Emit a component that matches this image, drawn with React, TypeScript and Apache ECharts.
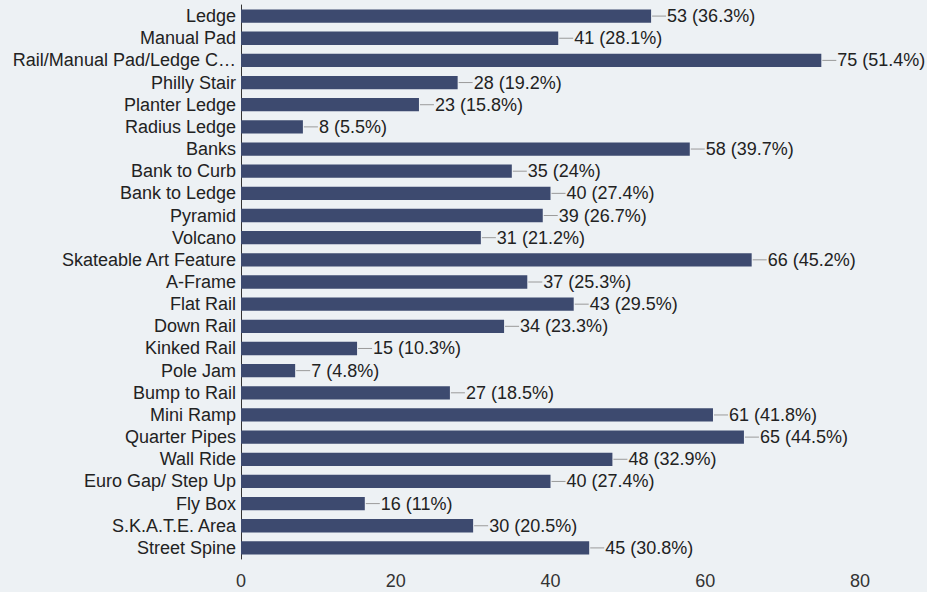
import React, { useEffect, useRef } from "react";
import * as echarts from "echarts";

const categories = [
  "Ledge", "Manual Pad", "Rail/Manual Pad/Ledge C…", "Philly Stair", "Planter Ledge",
  "Radius Ledge", "Banks", "Bank to Curb", "Bank to Ledge", "Pyramid", "Volcano",
  "Skateable Art Feature", "A-Frame", "Flat Rail", "Down Rail", "Kinked Rail", "Pole Jam",
  "Bump to Rail", "Mini Ramp", "Quarter Pipes", "Wall Ride", "Euro Gap/ Step Up",
  "Fly Box", "S.K.A.T.E. Area", "Street Spine",
];
const values = [53, 41, 75, 28, 23, 8, 58, 35, 40, 39, 31, 66, 37, 43, 34, 15, 7, 27, 61, 65, 48, 40, 16, 30, 45];
const percents = ["36.3", "28.1", "51.4", "19.2", "15.8", "5.5", "39.7", "24", "27.4", "26.7", "21.2", "45.2", "25.3", "29.5", "23.3", "10.3", "4.8", "18.5", "41.8", "44.5", "32.9", "27.4", "11", "20.5", "30.8"];
const xTicks = [0, 20, 40, 60, 80];

export default function App() {
  const ref = useRef<HTMLDivElement>(null);
  useEffect(() => {
    if (!ref.current) return;
    const chart = echarts.init(ref.current, null, { renderer: "svg" });
    const font = "'Liberation Sans', Arial, sans-serif";
    chart.setOption({
      animation: false,
      backgroundColor: "#edf1f4",
      textStyle: { fontFamily: font },
      grid: { left: 241, right: 67, top: 5, bottom: 33, containLabel: false },
      xAxis: {
        type: "value",
        min: xTicks[0],
        max: xTicks[xTicks.length - 1],
        interval: 20,
        axisLine: { show: false },
        axisTick: { show: false },
        splitLine: { show: false },
        axisLabel: { color: "#333", fontSize: 18, margin: 13, fontFamily: font },
      },
      yAxis: {
        type: "category",
        data: categories,
        inverse: true,
        axisLine: { show: true, lineStyle: { color: "#333", width: 1 } },
        axisTick: { show: false },
        axisLabel: {
          color: "#222",
          fontSize: 18,
          lineHeight: 20,
          margin: 5,
          interval: 0,
          hideOverlap: false,
          fontFamily: font,
        },
      },
      series: [
        {
          type: "bar",
          data: values,
          barCategoryGap: "40%",
          itemStyle: { color: "#3d4a6f" },
        },
        {
          type: "custom",
          data: values.map((v, i) => [v, i]),
          renderItem: (params: any, api: any) => {
            const v = api.value(0);
            const idx = api.value(1);
            const p = api.coord([v, idx]);
            const i = params.dataIndex;
            return {
              type: "group",
              children: [
                {
                  type: "line",
                  shape: { x1: p[0] + 1, y1: p[1], x2: p[0] + 15, y2: p[1] },
                  style: { stroke: "#9a9a9a", lineWidth: 1 },
                },
                {
                  type: "text",
                  x: p[0] + 16,
                  y: p[1],
                  style: {
                    text: `${values[i]} (${percents[i]}%)`,
                    fill: "#222",
                    fontSize: 18,
                    fontFamily: font,
                    textAlign: "left",
                    textVerticalAlign: "middle",
                  },
                },
              ],
            };
          },
        },
      ],
    });
    return () => chart.dispose();
  }, []);
  return (
    <div
      ref={ref}
      style={{ position: "fixed", left: 0, top: 0, width: 927, height: 592 }}
    />
  );
}
